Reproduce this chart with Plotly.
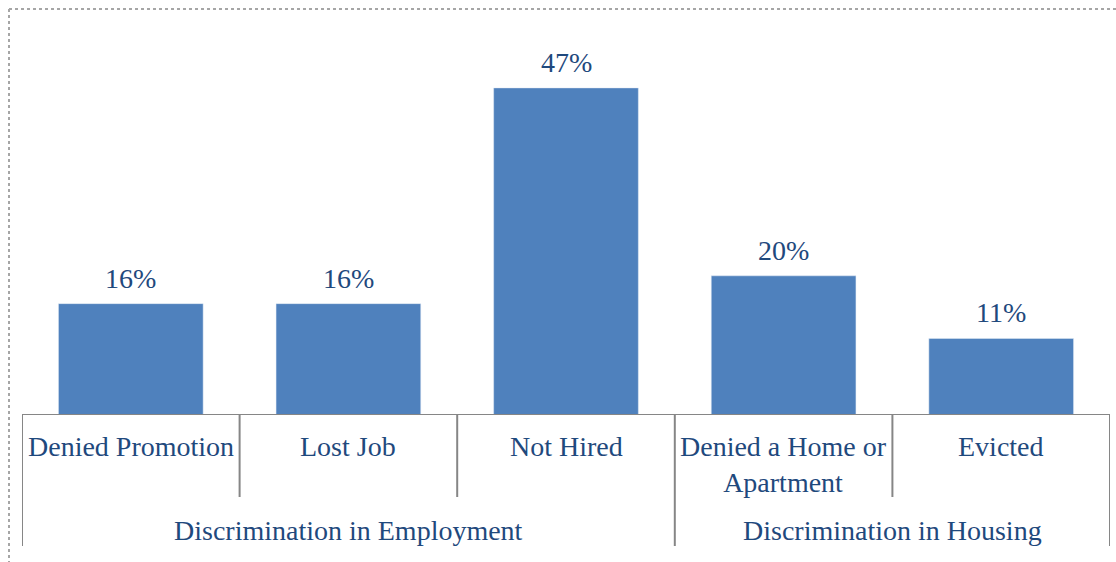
import plotly.graph_objects as go

# Survey results: share reporting each type of discrimination
categories = ["Denied Promotion", "Lost Job", "Not Hired", "Denied a Home or<br>Apartment", "Evicted"]
values = [16, 16, 47, 20, 11]
groups = ["Discrimination in Employment", "Discrimination in Housing"]
group_sizes = [3, 2]

W, H = 1116, 562
ML, MR, MT, MB = 22, 6, 67, 147
plot_h = H - MT - MB

BAR = "#4F81BD"
TXT = "#1F497D"
AX = "#868686"
FONT = "Liberation Serif"
FS = 28


def py(pixel_y):
    """Pixel row -> paper y coordinate."""
    return (H - MB - pixel_y) / plot_h


def px(pixel_x):
    return (pixel_x - ML) / (W - ML - MR)


x_idx = list(range(len(categories)))

fig = go.Figure(go.Bar(
    x=x_idx, y=values, marker_color=BAR, width=0.665,
    hoverinfo="skip",
))

shapes = []
annotations = []

# percentage labels above bars
for i, v in enumerate(values):
    annotations.append(dict(x=i, y=v, xref="x", yref="y", text=f"{v}%",
                            showarrow=False, yanchor="bottom", yshift=8,
                            font=dict(family=FONT, size=FS, color=TXT)))

# category labels under axis
for i, c in enumerate(categories):
    annotations.append(dict(x=i, y=py(429), xref="x", yref="paper", text=c,
                            showarrow=False, yanchor="top",
                            font=dict(family=FONT, size=FS, color=TXT)))

# category dividers (short) and group dividers (long)
group_edges = [-0.5]
for n in group_sizes:
    group_edges.append(group_edges[-1] + n)
for k in range(len(categories) + 1):
    edge = k - 0.5
    bottom = py(546) if edge in group_edges else py(497)
    shapes.append(dict(type="line", xref="x", yref="paper", x0=edge, x1=edge,
                       y0=0, y1=bottom, line=dict(color=AX, width=2)))

# group labels
for g, a, b in zip(groups, group_edges[:-1], group_edges[1:]):
    annotations.append(dict(x=(a + b) / 2, y=py(530), xref="x", yref="paper", text=g,
                            showarrow=False, yanchor="middle",
                            font=dict(family=FONT, size=FS, color=TXT)))

# baseline
shapes.append(dict(type="line", xref="x", yref="y", x0=-0.5, x1=len(categories) - 0.5,
                   y0=0, y1=0, line=dict(color=AX, width=2)))

# dotted chart frame (top and left edges)
shapes.append(dict(type="line", xref="paper", yref="paper", x0=px(9), x1=px(W + 5),
                   y0=py(9), y1=py(9), line=dict(color="#A6A6A6", width=2, dash="dot")))
shapes.append(dict(type="line", xref="paper", yref="paper", x0=px(9), x1=px(9),
                   y0=py(9), y1=py(H + 5), line=dict(color="#A6A6A6", width=2, dash="dot")))

fig.update_layout(
    width=W, height=H,
    margin=dict(l=ML, r=MR, t=MT, b=MB),
    plot_bgcolor="white", paper_bgcolor="white",
    showlegend=False,
    xaxis=dict(range=[-0.5, len(categories) - 0.5], showticklabels=False,
               showgrid=False, zeroline=False, showline=False, ticks=""),
    yaxis=dict(range=[0, 50], visible=False, showgrid=False, zeroline=False),
    shapes=shapes, annotations=annotations,
)

fig.write_html("out.html", config={"displayModeBar": False})
